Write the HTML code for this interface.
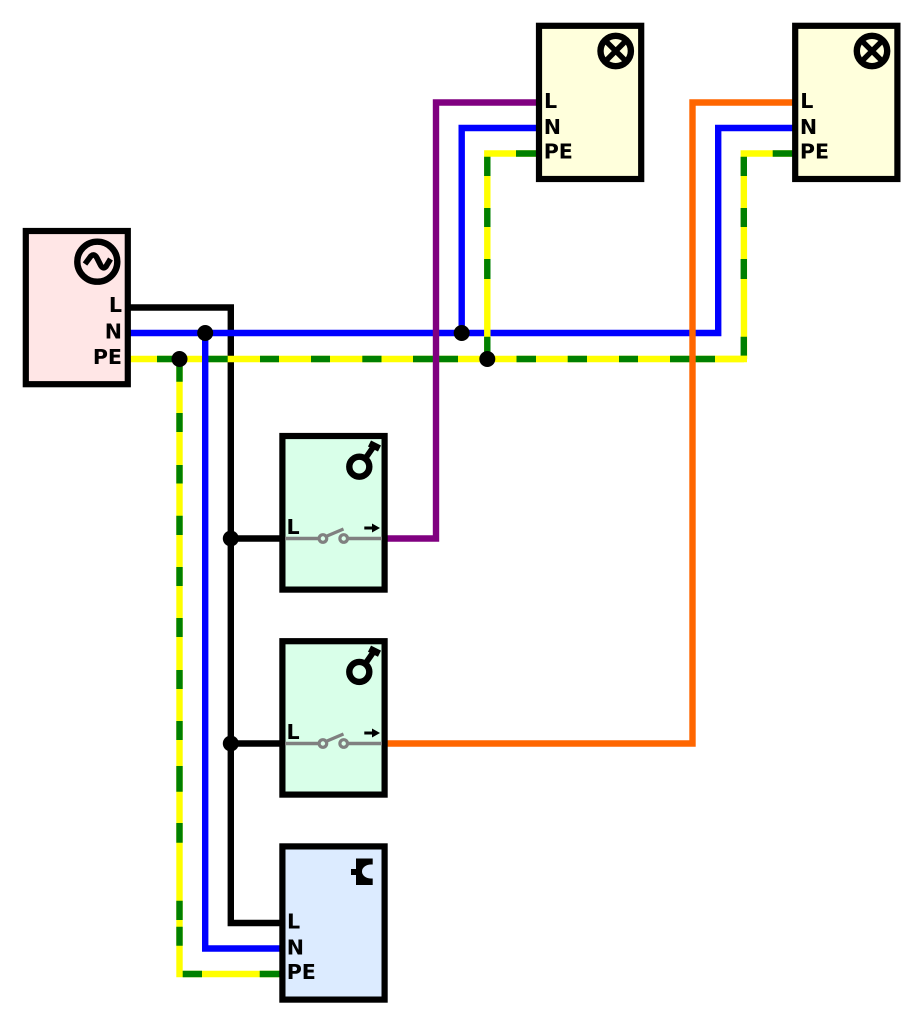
<!DOCTYPE html>
<html>
<head>
<meta charset="utf-8">
<style>
html,body{margin:0;padding:0;background:#fff;}
svg{display:block;}
text{font-family:"DejaVu Sans","Liberation Sans",sans-serif;font-weight:bold;font-size:20.6px;fill:#000;}
.w{fill:none;stroke-width:6.4;stroke-miterlimit:10;}
.g{stroke:#008000;stroke-width:6.4;fill:none;}
.y{stroke:#ffff00;stroke-width:6.4;fill:none;}
</style>
</head>
<body>
<svg width="923" height="1024" viewBox="0 0 923 1024" xmlns="http://www.w3.org/2000/svg">
<rect width="923" height="1024" fill="#fff"/>

<!-- L wire -->
<polyline class="w" stroke="#000" points="128,307.5 230.8,307.5 230.8,923 282,923"/>
<line x1="230.8" y1="538.5" x2="282" y2="538.5" stroke="#000" stroke-width="6.4"/>
<line x1="230.8" y1="743.5" x2="282" y2="743.5" stroke="#000" stroke-width="6.4"/>

<!-- PE horizontal -->
<polyline class="y" points="128,359 744,359"/>
<path class="g" d="M157,359H176M208,359H227.7M260,359H279M311,359H330M362.3,359H381.5M413,359H458M516.5,359H536M567.7,359H587M619,359H638M670,359H715"/>
<!-- PE to lamp 2 -->
<polyline class="y" points="744,359 743.8,153.5 795,153.5" style="stroke-miterlimit:10"/>
<path class="g" d="M743.8,156.7V176M743.8,208V227M743.8,259V279M743.8,336.7V355.7M772.7,153.5H795"/>
<line x1="715" y1="359" x2="747" y2="359" stroke="#ff0" stroke-width="6.4"/>
<!-- PE to socket -->
<polyline class="y" points="179.5,359 179.5,974 282,974"/>
<path class="g" d="M179.5,359V381.7M179.5,413V432M179.5,465V483.5M179.5,515.7V535M179.5,567V586M179.5,618V637M179.5,670V689M179.5,721V740M179.5,766V791.7M179.5,823V842.7M179.5,900.7V920M179.5,926.7V945.7M182.7,974H202M259.7,974H282"/>

<!-- N wires -->
<polyline class="w" stroke="#0000ff" points="128,333 718.2,333 718.2,128 795,128"/>
<polyline class="w" stroke="#0000ff" points="461.7,333 461.7,128 539,128"/>
<polyline class="w" stroke="#0000ff" points="205.2,333 205.2,948.5 285,948.5"/>

<!-- PE to lamp 1 -->
<polyline class="y" points="487.3,359 487.3,153.5 539,153.5"/>
<path class="g" d="M487.3,156.7V176M487.3,208V227M487.3,259V279M487.3,336.7V355.7M516,153.5H539"/>

<!-- switched wires -->
<polyline class="w" stroke="#800080" points="385,538.5 436,538.5 436,102.5 539,102.5"/>
<polyline class="w" stroke="#ff6600" points="385,743.5 692.5,743.5 692.5,102.5 795,102.5"/>

<!-- junctions -->
<g fill="#000">
<circle cx="205.2" cy="333" r="8"/>
<circle cx="179.5" cy="359" r="8"/>
<circle cx="461.7" cy="333" r="8"/>
<circle cx="487.3" cy="359" r="8"/>
<circle cx="230.8" cy="538.5" r="8"/>
<circle cx="230.8" cy="743.5" r="8"/>
</g>

<!-- source -->
<rect x="25.8" y="231" width="102" height="153.2" fill="#ffe6e6" stroke="#000" stroke-width="6.2"/>
<circle cx="97.3" cy="261.7" r="20" fill="none" stroke="#000" stroke-width="6.4"/>
<path d="M85,264 L91,256 C93.5,254 95.5,255 97,258 L100,264 C102,268.5 104,268.5 106,266.5 L110.5,259" fill="none" stroke="#000" stroke-width="5.6"/>
<text x="122" y="312" text-anchor="end">L</text>
<text x="122" y="338.5" text-anchor="end">N</text>
<text x="122" y="364.2" text-anchor="end">PE</text>

<!-- lamp 1 -->
<rect x="539" y="25.8" width="102.2" height="153.2" fill="#ffffdc" stroke="#000" stroke-width="6.2"/>
<circle cx="615.7" cy="51" r="15.2" fill="none" stroke="#000" stroke-width="6.4"/>
<path d="M605,40.3L626.4,61.7M626.4,40.3L605,61.7" stroke="#000" stroke-width="5.4"/>
<text x="544" y="108.2">L</text>
<text x="543.7" y="134">N</text>
<text x="543.7" y="158.5">PE</text>

<!-- lamp 2 -->
<rect x="795.2" y="25.8" width="102.2" height="153.2" fill="#ffffdc" stroke="#000" stroke-width="6.2"/>
<circle cx="872" cy="51" r="15.2" fill="none" stroke="#000" stroke-width="6.4"/>
<path d="M861.3,40.3L882.7,61.7M882.7,40.3L861.3,61.7" stroke="#000" stroke-width="5.4"/>
<text x="800.2" y="108.2">L</text>
<text x="799.9" y="134">N</text>
<text x="799.9" y="158.5">PE</text>

<!-- switch 1 -->
<rect x="282.4" y="436" width="102.2" height="153.6" fill="#d9ffe9" stroke="#000" stroke-width="6.2"/>
<circle cx="359.3" cy="466.7" r="10" fill="none" stroke="#000" stroke-width="6.4"/>
<path d="M365,459L374,446" stroke="#000" stroke-width="5.8"/>
<path d="M369.5,443.5L379.5,448.5" stroke="#000" stroke-width="6.8"/>
<text x="286.5" y="534">L</text>
<path d="M285,538.5H318.5M348,538.5H382" stroke="#808080" stroke-width="3.6" fill="none"/>
<circle cx="322.9" cy="538.5" r="3.8" fill="none" stroke="#808080" stroke-width="3.2"/>
<circle cx="343.7" cy="538.5" r="3.8" fill="none" stroke="#808080" stroke-width="3.2"/>
<path d="M327,536L343.5,529" stroke="#808080" stroke-width="3.2"/>
<path d="M364.3,528H373" stroke="#000" stroke-width="3"/>
<path d="M372,523.5L380,528L372,532.5Z" fill="#000"/>

<!-- switch 2 -->
<rect x="282.4" y="641.2" width="102.2" height="153.4" fill="#d9ffe9" stroke="#000" stroke-width="6.2"/>
<circle cx="359.3" cy="671.9" r="10" fill="none" stroke="#000" stroke-width="6.4"/>
<path d="M365,664.2L374,651.2" stroke="#000" stroke-width="5.8"/>
<path d="M369.5,648.7L379.5,653.7" stroke="#000" stroke-width="6.8"/>
<text x="286.5" y="739">L</text>
<path d="M285,743.5H318.5M348,743.5H382" stroke="#808080" stroke-width="3.6" fill="none"/>
<circle cx="322.9" cy="743.5" r="3.8" fill="none" stroke="#808080" stroke-width="3.2"/>
<circle cx="343.7" cy="743.5" r="3.8" fill="none" stroke="#808080" stroke-width="3.2"/>
<path d="M327,741L343.5,734" stroke="#808080" stroke-width="3.2"/>
<path d="M364.3,733H373" stroke="#000" stroke-width="3"/>
<path d="M372,728.5L380,733L372,737.5Z" fill="#000"/>

<!-- socket -->
<rect x="282.4" y="846.4" width="102.2" height="153.2" fill="#dcebff" stroke="#000" stroke-width="6.2"/>
<path d="M356,858.5H372.7V864.5H371A9,7 0 0 0 371,878.5H372.7V885H356V875H351V869H356Z" fill="#000"/>
<text x="287" y="928.5">L</text>
<text x="286.7" y="954.3">N</text>
<text x="286.7" y="979.2">PE</text>
</svg>
</body>
</html>
